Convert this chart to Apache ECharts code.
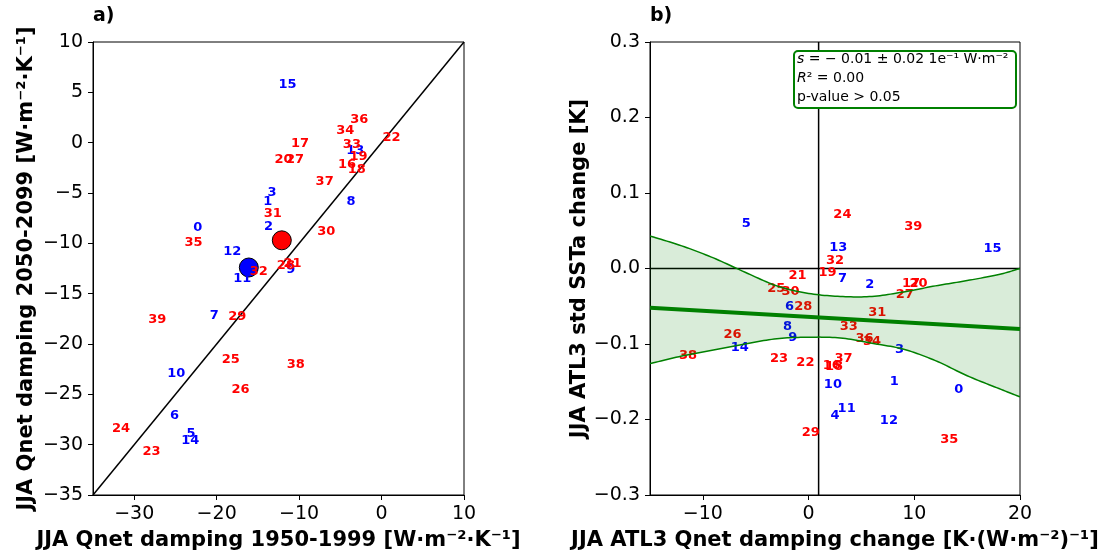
<!DOCTYPE html>
<html>
<head>
<meta charset="utf-8">
<script src="https://cdn.jsdelivr.net/npm/echarts@6/dist/echarts.min.js"></script>
<style>
  html, body { margin: 0; padding: 0; background: #fff; }
  #chart { width: 1107px; height: 557px; }
</style>
</head>
<body>
<div id="chart"></div>
<script>
// Model indices: 0-15 drawn in blue, 16-39 in red
const blueIds = [0,1,2,3,4,5,6,7,8,9,10,11,12,13,14,15];
const redIds = [16,17,18,19,20,21,22,23,24,25,26,27,28,29,30,31,32,33,34,35,36,37,38,39];

// Panel a: JJA Qnet damping, 1950-1999 (x) vs 2050-2099 (y), per model
const dampHist = [-22.3,-13.8,-13.7,-13.3,-16.1,-23.1,-25.1,-20.3,-3.7,-11.0,
                  -24.9,-16.9,-18.1,-3.2,-23.2,-11.4,-4.2,-9.9,-3.0,-2.8,
                  -11.9,-10.8,1.2,-27.9,-31.6,-18.3,-17.1,-10.5,-11.6,-17.5,
                  -6.7,-13.2,-14.9,-3.6,-4.4,-22.8,-2.7,-6.9,-10.4,-27.2];
const dampFut  = [-8.4,-5.9,-8.3,-5.0,-12.4,-28.9,-27.1,-17.2,-5.9,-12.6,
                  -22.9,-13.5,-10.8,-0.8,-29.6,5.8,-2.2,-0.1,-2.7,-1.4,
                  -1.7,-12.0,0.5,-30.7,-28.4,-21.6,-24.5,-1.7,-12.2,-17.3,
                  -8.8,-7.0,-12.8,-0.2,1.2,-9.9,2.3,-3.9,-22.0,-17.6];
// Group means (x, y)
const meanBlue = [-16.1, -12.4];
const meanRed = [-12.1, -9.7];

// Panel b: Qnet damping change (x) vs std SSTa change (y), per model
const dampChange = [14.2,8.1,5.8,8.6,2.5,-5.9,-1.8,3.2,-2.0,-1.5,
                    2.3,3.6,7.6,2.8,-6.5,17.4,2.2,9.7,2.4,1.8,
                    10.4,-1.05,-0.3,-2.8,3.2,-3.05,-7.2,9.1,-0.5,0.2,
                    -1.7,6.5,2.5,3.8,6.0,13.3,5.3,3.3,-11.4,9.9];
const sstStdChange = [-0.161,-0.150,-0.022,-0.107,-0.195,0.059,-0.051,-0.014,-0.077,-0.092,
                      -0.154,-0.185,-0.202,0.028,-0.105,0.026,-0.128,-0.020,-0.130,-0.005,
                      -0.020,-0.010,-0.125,-0.120,0.071,-0.026,-0.087,-0.034,-0.050,-0.218,
                      -0.031,-0.058,0.011,-0.077,-0.097,-0.226,-0.093,-0.119,-0.116,0.056];

// Regression fit and confidence band
const fitX = [-15, 20];
const fitY = [-0.052, -0.080];
const bandX = [-15,-12,-9,-6,-3,0,3,6,9,12,15,18,20];
const bandUpper = [0.043,0.030,0.014,-0.005,-0.023,-0.033,-0.037,-0.037,-0.031,-0.023,-0.016,-0.008,0.000];
const bandLower = [-0.126,-0.116,-0.108,-0.100,-0.093,-0.091,-0.092,-0.099,-0.107,-0.122,-0.142,-0.159,-0.170];
const crossX = 0.95;

// Tick labels
const aTicksX = [-30,-20,-10,0,10];
const bTicksX = [-10,0,10,20];

const FONT = 'DejaVu Sans';
const minus = s => String(s).replace('-', '\u2212');

function pts(xs, ys, ids) { return ids.map(i => [xs[i], ys[i], i]); }

// Catmull-Rom spline through pixel points, for drawing smooth curves
function spline(p, steps) {
  const out = [];
  for (let i = 0; i < p.length - 1; i++) {
    const p0 = p[Math.max(i - 1, 0)], p1 = p[i], p2 = p[i + 1], p3 = p[Math.min(i + 2, p.length - 1)];
    for (let s = 0; s < steps; s++) {
      const t = s / steps, t2 = t * t, t3 = t2 * t;
      out.push([0, 1].map(k => 0.5 * ((2 * p1[k]) + (-p0[k] + p2[k]) * t +
        (2 * p0[k] - 5 * p1[k] + 4 * p2[k] - p3[k]) * t2 +
        (-p0[k] + 3 * p1[k] - 3 * p2[k] + p3[k]) * t3)));
    }
  }
  out.push(p[p.length - 1].slice());
  return out;
}

function labelSeries(xIdx, data, color, z) {
  return {
    type: 'scatter', xAxisIndex: xIdx, yAxisIndex: xIdx,
    data: data, symbolSize: 1, z: z, silent: true,
    itemStyle: { color: 'transparent', opacity: 1 },
    label: {
      show: true, position: 'inside',
      formatter: p => String(p.value[2]),
      color: color, fontFamily: FONT, fontWeight: 'bold', fontSize: 13
    }
  };
}

function axisCommon() {
  return {
    axisLine: { show: true, onZero: false, lineStyle: { color: '#000', width: 1 } },
    axisTick: { show: true, inside: false, length: 5, lineStyle: { color: '#000', width: 1 } },
    splitLine: { show: false },
    nameTextStyle: { fontFamily: FONT, fontWeight: 'bold', fontSize: 21, color: '#000' }
  };
}
const tickLabel = { fontFamily: FONT, fontSize: 19, color: '#000', margin: 10 };
const titleStyle = { fontFamily: FONT, fontWeight: 'bold', fontSize: 19, color: '#000' };

const chart = echarts.init(document.getElementById('chart'), null, { renderer: 'canvas' });

const option = {
  animation: false,
  backgroundColor: '#fff',
  title: [
    { text: 'a)', left: 93, top: 7, padding: 0, textStyle: titleStyle },
    { text: 'b)', left: 650, top: 7, padding: 0, textStyle: titleStyle }
  ],
  grid: [
    { left: 93, top: 42, width: 371, height: 453, show: true, borderColor: '#000', borderWidth: 1, backgroundColor: 'transparent' },
    { left: 650, top: 42, width: 370, height: 453, show: true, borderColor: '#000', borderWidth: 1, backgroundColor: 'transparent' }
  ],
  xAxis: [
    Object.assign(axisCommon(), {
      type: 'value', gridIndex: 0, min: -35, max: 10,
      name: 'JJA Qnet damping 1950-1999 [W\u00b7m\u207b\u00b2\u00b7K\u207b\u00b9]',
      nameLocation: 'middle', nameGap: 35,
      axisTick: { show: true, length: 5, customValues: aTicksX, lineStyle: { color: '#000' } },
      axisLabel: Object.assign({ customValues: aTicksX, formatter: minus }, tickLabel)
    }),
    Object.assign(axisCommon(), {
      type: 'value', gridIndex: 1, min: -15, max: 20,
      name: 'JJA ATL3 Qnet damping change [K\u00b7(W\u00b7m\u207b\u00b2)\u207b\u00b9]',
      nameLocation: 'middle', nameGap: 35,
      axisTick: { show: true, length: 5, customValues: bTicksX, lineStyle: { color: '#000' } },
      axisLabel: Object.assign({ customValues: bTicksX, formatter: minus }, tickLabel)
    })
  ],
  yAxis: [
    Object.assign(axisCommon(), {
      type: 'value', gridIndex: 0, min: -35, max: 10, interval: 5,
      name: 'JJA Qnet damping 2050-2099 [W\u00b7m\u207b\u00b2\u00b7K\u207b\u00b9]',
      nameLocation: 'middle', nameGap: 56,
      axisLabel: Object.assign({ formatter: minus }, tickLabel)
    }),
    Object.assign(axisCommon(), {
      type: 'value', gridIndex: 1, min: -0.3, max: 0.3, interval: 0.1,
      name: 'JJA ATL3 std SSTa change [K]',
      nameLocation: 'middle', nameGap: 56,
      axisLabel: Object.assign({ formatter: v => minus((Math.abs(v) < 1e-9 ? 0 : v).toFixed(1)) }, tickLabel)
    })
  ],
  series: [
    // Panel a: 1:1 line
    { type: 'line', xAxisIndex: 0, yAxisIndex: 0, data: [[-35, -35], [10, 10]],
      symbol: 'none', silent: true, z: 1, lineStyle: { color: '#000', width: 1.5 } },
    // Panel a: group means
    { type: 'scatter', xAxisIndex: 0, yAxisIndex: 0, data: [meanBlue], symbolSize: 19, z: 2, silent: true,
      itemStyle: { color: '#0000ff', borderColor: '#000', borderWidth: 1, opacity: 1 } },
    { type: 'scatter', xAxisIndex: 0, yAxisIndex: 0, data: [meanRed], symbolSize: 19, z: 2, silent: true,
      itemStyle: { color: '#ff0000', borderColor: '#000', borderWidth: 1, opacity: 1 } },
    labelSeries(0, pts(dampHist, dampFut, blueIds), '#0000ff', 3),
    labelSeries(0, pts(dampHist, dampFut, redIds), '#ff0000', 4),

    // Panel b: zero / reference lines
    { type: 'line', xAxisIndex: 1, yAxisIndex: 1, data: [[-15, 0], [20, 0]],
      symbol: 'none', silent: true, z: 1, lineStyle: { color: '#000', width: 1.5 } },
    { type: 'line', xAxisIndex: 1, yAxisIndex: 1, data: [[crossX, -0.3], [crossX, 0.3]],
      symbol: 'none', silent: true, z: 1, lineStyle: { color: '#000', width: 1.5 } },
    labelSeries(1, pts(dampChange, sstStdChange, blueIds), '#0000ff', 3),
    labelSeries(1, pts(dampChange, sstStdChange, redIds), '#ff0000', 4),
    // Confidence band: shaded fill with edge curves
    {
      type: 'custom', xAxisIndex: 1, yAxisIndex: 1, silent: true, z: 5, clip: true,
      data: [[bandX[0], bandLower[0]]],
      renderItem: (params, api) => {
        const up = spline(bandX.map((x, i) => api.coord([x, bandUpper[i]])), 12);
        const lo = spline(bandX.map((x, i) => api.coord([x, bandLower[i]])), 12);
        return {
          type: 'group',
          children: [
            { type: 'polygon', shape: { points: up.concat(lo.slice().reverse()) },
              style: { fill: 'rgba(0,128,0,0.15)', stroke: null } },
            { type: 'polyline', shape: { points: up },
              style: { fill: null, stroke: '#008000', lineWidth: 1.5 } },
            { type: 'polyline', shape: { points: lo },
              style: { fill: null, stroke: '#008000', lineWidth: 1.5 } }
          ]
        };
      }
    },
    // Regression line
    { type: 'line', xAxisIndex: 1, yAxisIndex: 1, symbol: 'none', silent: true, z: 7,
      data: fitX.map((x, i) => [x, fitY[i]]), lineStyle: { color: '#008000', width: 4 } }
  ],
  graphic: [
    { type: 'rect', left: 793, top: 50, z: 20,
      shape: { width: 222, height: 57, r: 4 },
      style: { fill: '#fff', stroke: '#008000', lineWidth: 2 } },
    { type: 'text', left: 797, top: 50, z: 21,
      style: {
        text: '{i|s} = \u2212 0.01 \u00b1 0.02 1e\u207b\u00b9 W\u00b7m\u207b\u00b2\n{i|R}\u00b2 = 0.00\np-value > 0.05',
        fontFamily: FONT, fontSize: 14, fill: '#000', lineHeight: 19,
        rich: { i: { fontStyle: 'italic', fontFamily: FONT, fontSize: 14, lineHeight: 19 } }
      } }
  ]
};
chart.setOption(option);
</script>
</body>
</html>
